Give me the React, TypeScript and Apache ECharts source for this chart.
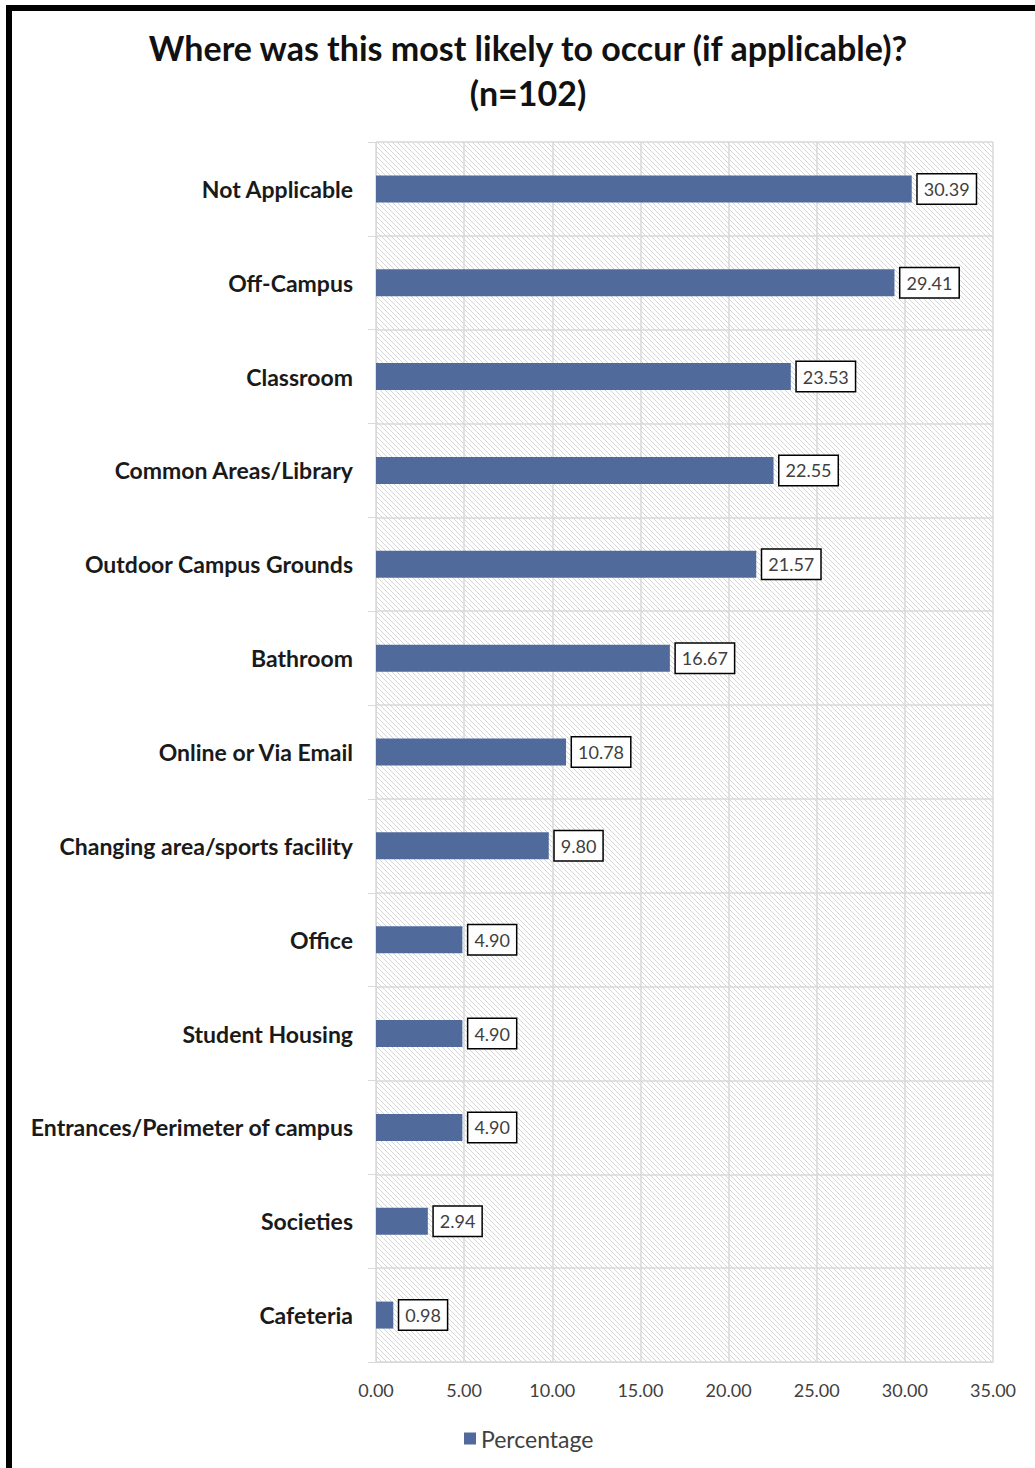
import React, { useEffect, useRef } from "react";
import * as echarts from "echarts";

const titleText = "Where was this most likely to occur (if applicable)?\n(n=102)";
const categories = [
  "Not Applicable",
  "Off-Campus",
  "Classroom",
  "Common Areas/Library",
  "Outdoor Campus Grounds",
  "Bathroom",
  "Online or Via Email",
  "Changing area/sports facility",
  "Office",
  "Student Housing",
  "Entrances/Perimeter of campus",
  "Societies",
  "Cafeteria",
];
const percentages = [30.39, 29.41, 23.53, 22.55, 21.57, 16.67, 10.78, 9.8, 4.9, 4.9, 4.9, 2.94, 0.98];
const seriesName = "Percentage";
const xMin = 0;
const xMax = 35;
const xStep = 5;

const FONT = "Lato, 'Open Sans', sans-serif";

export default function App() {
  const ref = useRef<HTMLDivElement>(null);
  useEffect(() => {
    if (!ref.current) return;
    const chart = echarts.init(ref.current, null, { renderer: "svg" });

    const tile = document.createElement("canvas");
    tile.width = 5;
    tile.height = 5;
    const ctx = tile.getContext("2d")!;
    ctx.fillStyle = "#ffffff";
    ctx.fillRect(0, 0, 5, 5);
    ctx.strokeStyle = "#d6d6d6";
    ctx.lineWidth = 1;
    for (let i = -5; i <= 5; i += 5) {
      ctx.beginPath();
      ctx.moveTo(i, 0);
      ctx.lineTo(i + 5, 5);
      ctx.stroke();
    }

    chart.setOption({
      animation: false,
      backgroundColor: "#ffffff",
      title: {
        text: titleText,
        left: 523,
        textAlign: "center",
        top: 20,
        textStyle: {
          fontFamily: FONT,
          fontWeight: "bold",
          fontSize: 34,
          lineHeight: 45,
          color: "#111111",
        },
      },
      graphic: [
        { type: "rect", shape: { x: 6, y: 5, width: 1029, height: 6 }, style: { fill: "#000000" } },
        { type: "rect", shape: { x: 6, y: 5, width: 6, height: 1463 }, style: { fill: "#000000" } },
      ],
      legend: {
        data: [seriesName],
        left: 459,
        top: 1422,
        itemWidth: 12,
        itemHeight: 12,
        itemGap: 8,
        icon: "rect",
        textStyle: { fontFamily: FONT, fontSize: 23, color: "#404040" },
      },
      grid: {
        left: 376,
        right: 42,
        top: 142,
        bottom: 106,
        show: true,
        borderWidth: 0,
        backgroundColor: { image: tile, repeat: "repeat" } as any,
      },
      xAxis: {
        type: "value",
        min: xMin,
        max: xMax,
        interval: xStep,
        axisLine: { show: true, lineStyle: { color: "#d9d9d9", width: 1 } },
        axisTick: { show: false },
        splitLine: { show: true, lineStyle: { color: "#d9d9d9", width: 1.5 } },
        axisLabel: {
          formatter: (v: number) => v.toFixed(2),
          fontFamily: FONT,
          fontSize: 18,
          color: "#404040",
          margin: 19,
        },
      },
      yAxis: {
        type: "category",
        data: categories,
        inverse: true,
        axisLine: { show: true, lineStyle: { color: "#d9d9d9", width: 1 } },
        axisTick: { show: true, length: 8, lineStyle: { color: "#d9d9d9" } },
        splitLine: { show: true, lineStyle: { color: "#d9d9d9", width: 1.5 } },
        axisLabel: {
          fontFamily: FONT,
          fontWeight: "bold",
          fontSize: 23,
          color: "#1a1a1a",
          margin: 23,
        },
      },
      series: [
        {
          name: seriesName,
          type: "bar",
          data: percentages,
          barWidth: 27,
          itemStyle: { color: "#506a9b" },
          label: {
            show: true,
            position: "right",
            distance: 6,
            formatter: (p: any) => Number(p.value).toFixed(2),
            fontFamily: FONT,
            fontSize: 18,
            color: "#404040",
            backgroundColor: "#ffffff",
            borderColor: "#000000",
            borderWidth: 1.5,
            padding: [6, 6, 5, 6],
          },
        },
      ],
    });
    return () => chart.dispose();
  }, []);
  return (
    <div
      ref={ref}
      style={{ position: "absolute", left: 0, top: 0, width: 1035, height: 1468 }}
    />
  );
}
